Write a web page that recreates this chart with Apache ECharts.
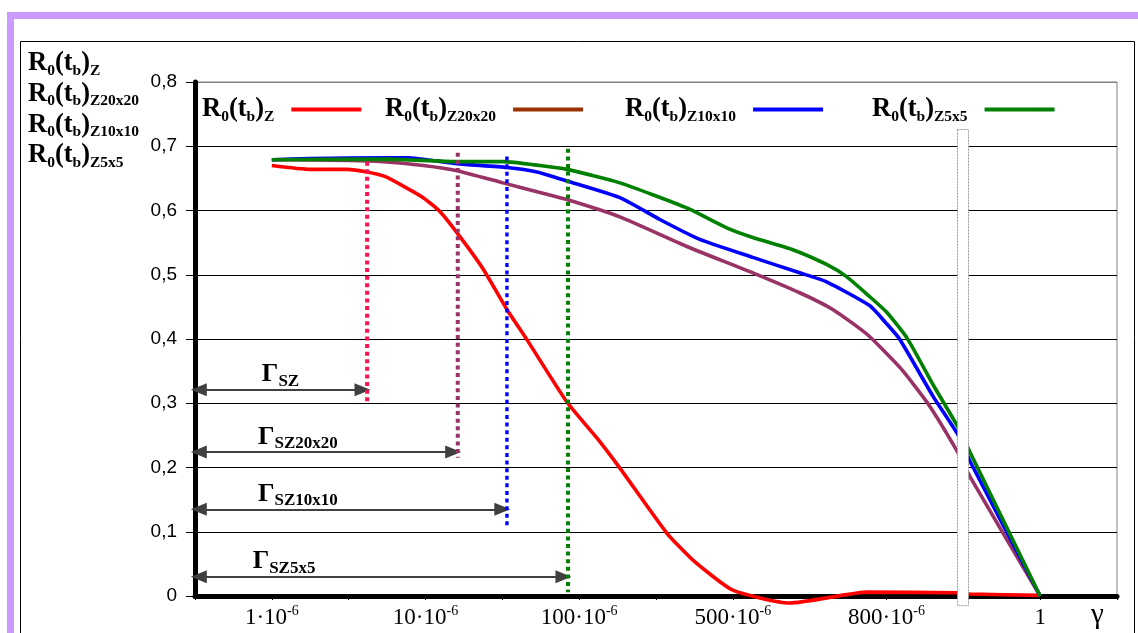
<!DOCTYPE html>
<html><head><meta charset="utf-8">
<script src="https://cdn.jsdelivr.net/npm/echarts@6/dist/echarts.min.js"></script>
<style>html,body{margin:0;padding:0;background:#fff}#c{width:1138px;height:633px}</style>
</head><body><div id="c"></div>
<script>
// ---------- data ----------
const seriesNames = ['R0(tb)Z', 'R0(tb)Z20x20', 'R0(tb)Z10x10', 'R0(tb)Z5x5'];

const redX = [1.0, 1.5, 1.98, 2.24, 2.47, 2.71, 2.97, 3.19, 3.45, 3.75, 4.06, 4.32, 4.84, 5.23, 5.53, 6.14, 6.48, 7.0, 7.74, 8.75, 9.92, 10.09, 11.0];
const redY = [0.670, 0.664, 0.664, 0.660, 0.653, 0.638, 0.620, 0.598, 0.559, 0.509, 0.446, 0.399, 0.302, 0.246, 0.199, 0.098, 0.056, 0.009, -0.011, 0.006, 0.005, 0.003, 0.001];

const purX = [1.0, 2.0, 2.45, 2.97, 3.41, 4.01, 4.49, 4.84, 5.53, 6.40, 7.26, 7.87, 8.30, 8.75, 9.18, 9.53, 9.93, 10.09, 11.0];
const purY = [0.679, 0.678, 0.676, 0.670, 0.662, 0.643, 0.628, 0.617, 0.590, 0.544, 0.503, 0.472, 0.446, 0.407, 0.355, 0.301, 0.223, 0.185, 0.0];

const bluX = [1.0, 1.5, 2.5, 2.76, 3.41, 4.06, 4.45, 4.84, 5.53, 6.05, 6.57, 7.26, 7.87, 8.22, 8.78, 9.0, 9.17, 9.61, 9.93, 10.09, 11.0];
const bluY = [0.679, 0.681, 0.682, 0.682, 0.673, 0.667, 0.660, 0.646, 0.620, 0.586, 0.555, 0.527, 0.503, 0.489, 0.452, 0.424, 0.400, 0.310, 0.251, 0.209, 0.0];

const grnX = [1.0, 2.5, 3.41, 4.01, 4.49, 4.84, 5.53, 6.40, 6.92, 7.26, 7.78, 8.22, 8.48, 8.78, 9.0, 9.27, 9.61, 9.93, 10.09, 11.0];
const grnY = [0.679, 0.680, 0.676, 0.676, 0.670, 0.664, 0.643, 0.604, 0.573, 0.558, 0.539, 0.516, 0.497, 0.466, 0.442, 0.401, 0.328, 0.263, 0.223, 0.0];

// thresholds Γ (x position on axis, top/bottom of dotted marker, arrow level)
const gammaSub = ['SZ', 'SZ20x20', 'SZ10x10', 'SZ5x5'];
const gammaX = [2.24, 3.42, 4.06, 4.855];
const gammaTop = [0.676, 0.690, 0.684, 0.696];
const gammaBottom = [0.300, 0.215, 0.107, 0.006];
const gammaArrowY = [0.321, 0.224, 0.135, 0.030];
const gammaLabelX = [0.87, 0.82, 0.82, 0.75];

// x tick labels
const xTickValues = [1, 3, 5, 7, 9, 11];
const xTickBase = ['1·10', '10·10', '100·10', '500·10', '800·10', '1'];
const xTickExp = ['-6', '-6', '-6', '-6', '-6', ''];

// ---------- styles ----------
const colors = ['#FF0000', '#993366', '#0000FF', '#008000'];
const legendColors = ['#FF0000', '#993300', '#0000FF', '#008000'];
const dotColors = ['#FF1050', '#993366', '#0000FF', '#008000'];
const serif = "'Liberation Serif','Times New Roman',serif";
const sans = "'Liberation Sans',Arial,sans-serif";

const richR = {
  m: { fontFamily: serif, fontSize: 26.5, fontWeight: 'bold', lineHeight: 30, verticalAlign: 'middle', color: '#000' },
  s: { fontFamily: serif, fontSize: 15.5, fontWeight: 'bold', lineHeight: 15, verticalAlign: 'bottom', color: '#000' },
  gap: { width: 12 }
};
function rLabel(name) {
  return '{m|R}{s|0}{m|(t}{s|b}{m|)}{s|' + name.slice(6) + '}';
}

const zip = (xs, ys) => xs.map((x, i) => [x, ys[i]]);
const curveData = [zip(redX, redY), zip(purX, purY), zip(bluX, bluY), zip(grnX, grnY)];

const series = seriesNames.map((n, i) => ({
  name: n, type: 'line', data: curveData[i], showSymbol: false, symbol: 'none',
  smooth: 0.18, clip: false, z: 3 + i,
  lineStyle: { color: colors[i], width: 3.6 },
  itemStyle: { color: colors[i] },
  silent: true
}));

gammaX.forEach((gx, i) => {
  series.push({
    type: 'line', data: [[gx, gammaTop[i]], [gx, gammaBottom[i]]], symbol: 'none',
    lineStyle: { color: dotColors[i], width: i === 2 ? 3.4 : 4, type: [4, 3.6], cap: 'butt' }, z: 8, silent: true
  });
});

series.push({
  type: 'line', data: [], z: 9, silent: true,
  markLine: {
    silent: true, animation: false,
    symbol: ['triangle', 'triangle'], symbolSize: [13, 16],
    label: { show: false },
    lineStyle: { color: '#404040', width: 2, type: 'solid' },
    emphasis: { disabled: true },
    data: gammaX.map((gx, i) => [{ coord: [0.05, gammaArrowY[i]] }, { coord: [gx - 0.06, gammaArrowY[i]] }])
  }
});

const legendLefts = [202, 385, 625, 872];
const legends = seriesNames.map((n, i) => ({
  data: [{ name: n, itemStyle: { color: legendColors[i] } }],
  left: legendLefts[i], top: 96, padding: 0,
  align: 'right', icon: 'rect', itemWidth: 70, itemHeight: 4,
  selectedMode: false,
  formatter: nm => rLabel(nm) + '{gap|}',
  textStyle: { rich: richR }
}));

const option = {
  animation: false,
  backgroundColor: '#fff',
  grid: { left: 195, right: 21, top: 82, bottom: 37, show: true, borderColor: '#808080', borderWidth: 1 },
  legend: legends,
  xAxis: {
    type: 'value', min: 0, max: 12, interval: 1,
    axisLine: { show: true, lineStyle: { color: '#000', width: 5 } },
    axisTick: { show: true, length: 4, lineStyle: { color: '#000', width: 1 } },
    splitLine: { show: false },
    axisLabel: {
      margin: 8,
      formatter: v => {
        const k = xTickValues.indexOf(v);
        if (k < 0) return '';
        return '{m|' + xTickBase[k] + '}' + (xTickExp[k] ? '{sup|' + xTickExp[k] + '}' : '');
      },
      rich: {
        m: { fontFamily: serif, fontSize: 23, lineHeight: 28, verticalAlign: 'middle', color: '#000' },
        sup: { fontFamily: serif, fontSize: 14, lineHeight: 20, verticalAlign: 'top', color: '#000' }
      }
    },
    name: 'γ', nameLocation: 'end', nameGap: -26,
    nameTextStyle: { fontFamily: serif, fontSize: 29, color: '#000', verticalAlign: 'top', padding: [5, 0, 0, 0] }
  },
  yAxis: {
    type: 'value', min: 0, max: 0.8, interval: 0.1,
    axisLine: { show: true, lineStyle: { color: '#000', width: 5 } },
    axisTick: { show: true, length: 9, lineStyle: { color: '#000', width: 1 } },
    splitLine: { show: true, lineStyle: { color: ['#000', '#000', '#000', '#000', '#000', '#000', '#000', '#000', '#808080'], width: 1 } },
    axisLabel: {
      margin: 18, fontFamily: sans, fontSize: 19, color: '#000',
      formatter: v => v === 0 ? '0' : v.toFixed(1).replace('.', ',')
    }
  },
  series: series
};

const chart = echarts.init(document.getElementById('c'), null, { renderer: 'canvas' });
chart.setOption(option);

const px = (u, v) => chart.convertToPixel({ gridIndex: 0 }, [u, v]);
const graphics = [];
// outer decorative frames
graphics.push({ type: 'rect', z: 0, shape: { x: 10.5, y: 15.5, width: 1200, height: 700 }, style: { fill: null, stroke: '#CC99FF', lineWidth: 7 }, silent: true });
graphics.push({ type: 'rect', z: 0, shape: { x: 20.5, y: 41.5, width: 1114, height: 700 }, style: { fill: null, stroke: '#000', lineWidth: 1 }, silent: true });
// y-axis title block
graphics.push({
  type: 'text', z: 50, x: 28, y: 48, silent: true,
  style: {
    text: seriesNames.map(rLabel).join('\n'),
    rich: {
      m: { fontFamily: serif, fontSize: 26.5, fontWeight: 'bold', lineHeight: 30.7, verticalAlign: 'middle', fill: '#000' },
      s: { fontFamily: serif, fontSize: 15.5, fontWeight: 'bold', lineHeight: 15, verticalAlign: 'bottom', fill: '#000' }
    },
    fill: '#000'
  }
});
// Γ labels
gammaSub.forEach((sub, i) => {
  const p = px(gammaLabelX[i], gammaArrowY[i]);
  graphics.push({
    type: 'text', z: 50, x: p[0], y: p[1], silent: true,
    style: {
      text: '{g|Γ}{s|' + sub + '}', verticalAlign: 'bottom', align: 'left',
      rich: {
        g: { fontFamily: serif, fontSize: 26, fontWeight: 'bold', lineHeight: 30, verticalAlign: 'middle', fill: '#000' },
        s: { fontFamily: serif, fontSize: 17, fontWeight: 'bold', lineHeight: 16, verticalAlign: 'bottom', fill: '#000' }
      }
    }
  });
});
// axis break box
const bTop = px(10.0, 0.727), bBot = px(10.0, -0.014);
graphics.push({
  type: 'rect', z: 100, silent: true,
  shape: { x: Math.round(bTop[0]) - 5.5, y: Math.round(bTop[1]) + 0.5, width: 11, height: bBot[1] - bTop[1] },
  style: { fill: '#fff', stroke: '#999', lineWidth: 1, lineDash: [2, 1] }
});
chart.setOption({ graphic: graphics });
</script></body></html>
